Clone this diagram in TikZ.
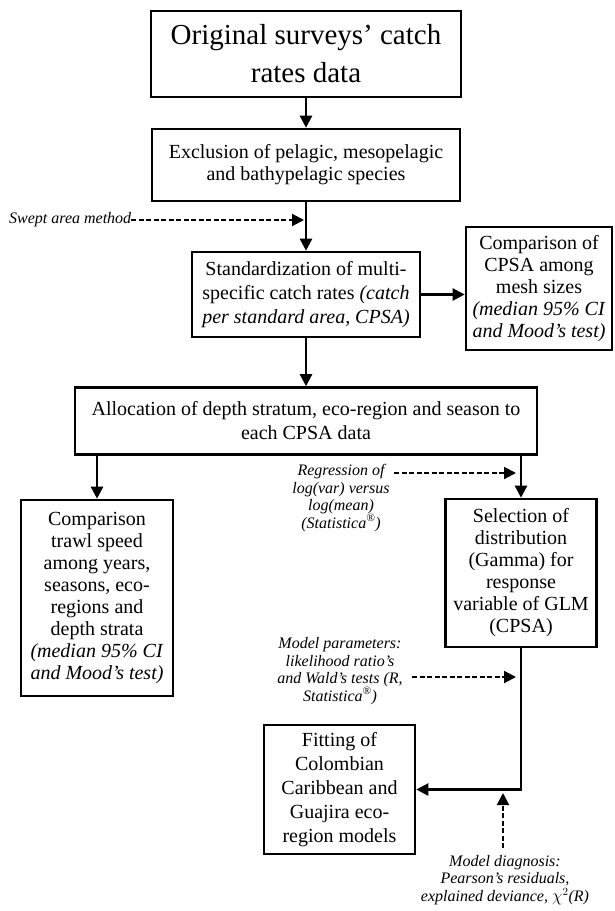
\documentclass[tikz,border=0pt]{standalone}
\usepackage{fontspec}
\setmainfont{Liberation Serif}
\usetikzlibrary{arrows.meta, calc, positioning}
\tikzset{
	procbox/.style={draw, line width=2.6pt, align=center, inner sep=2pt, font=\fontsize{20}{22}\selectfont},
	flow/.style={line width=2.4pt, -{Triangle[length=12pt,width=12pt]}},
	aside/.style={line width=2pt, dash pattern=on 5pt off 2.5pt, -{Triangle[length=12pt,width=12pt]}}
}
\newcommand{\stat}{Statistica\textsuperscript{\textregistered}}

\begin{document}
\begin{tikzpicture}[
	x=1pt, y=-1pt,
	note/.style={align=center, inner sep=0pt, font=\fontsize{16}{17.5}\selectfont\itshape},
	loose/.style={font=\fontsize{20}{24}\selectfont}]
	\useasboundingbox (0,0) rectangle (615,911);
	\node[procbox, minimum width=310, minimum height=86, font=\fontsize{29}{38}\selectfont] (orig) at (306,54) {Original surveys’ catch\\rates data};
	\node[procbox, minimum width=308, minimum height=72] (excl) at (306,165) {Exclusion of pelagic, mesopelagic\\and bathypelagic species};
	\node[procbox, loose, minimum width=228, minimum height=85] (cpsa) at (306,294.5) {Standardization of multi-\\specific catch rates \textit{(catch}\\\textit{per standard area, CPSA)}};
	\node[procbox, minimum width=146, minimum height=123] (mesh) at (539,288.5) {Comparison of\\CPSA among\\mesh sizes\\\textit{(median 95\% CI}\\\textit{and Mood’s test)}};
	\node[procbox, loose, minimum width=462, minimum height=67] (alloc) at (306,421) {Allocation of depth stratum, eco-region and season to\\each CPSA data};
	\node[procbox, minimum width=152, minimum height=196] (speed) at (97,598) {Comparison\\trawl speed\\among years,\\seasons, eco-\\regions and\\depth strata\\\textit{(median 95\% CI}\\\textit{and Mood’s test)}};
	\node[procbox, minimum width=151, minimum height=148] (glm) at (521,573) {Selection of\\distribution\\(Gamma) for\\response\\variable of GLM\\(CPSA)};
	\node[procbox, loose, minimum width=151, minimum height=129] (fit) at (339.5,789.5) {Fitting of\\Colombian\\Caribbean and\\Guajira eco-\\region models};
	\node[note, anchor=west] (swept) at (9,220) {Swept area method};
	\node[note] (regr) at (341,498) {Regression of\\log(var) versus\\log(mean)\\(\stat)};
	\node[note] (param) at (340,671) {Model parameters:\\likelihood ratio’s\\and Wald’s tests (R,\\\stat)};
	\node[note] (diag) at (505,880) {Model diagnosis:\\Pearson’s residuals,\\explained deviance, $\chi^{2}$(R)};
	\coordinate (sweptend) at (304,220);
	\coordinate (regrstart) at (394,473);
	\coordinate (regrend) at (516,473);
	\coordinate (paramstart) at (412,677);
	\coordinate (paramend) at (516,677);
	\coordinate (diagstart) at (503,848);
	\coordinate (diagend) at (503,793);
	\draw[flow] (orig) -- (excl);
	\draw[flow] (excl) -- (cpsa);
	\draw[flow] (cpsa.east) -- (cpsa.east -| mesh.west);
	\draw[flow] (cpsa) -- (alloc);
	\draw[flow] (alloc.south -| speed.north) -- (speed.north);
	\draw[flow] (alloc.south -| glm.north) -- (glm.north);
	\draw[flow] (glm.south) |- (fit.east);
	\draw[aside] (swept.east) -- (sweptend);
	\draw[aside] (regrstart) -- (regrend);
	\draw[aside] (paramstart) -- (paramend);
	\draw[aside] (diagstart) -- (diagend);
\end{tikzpicture}
\end{document}
